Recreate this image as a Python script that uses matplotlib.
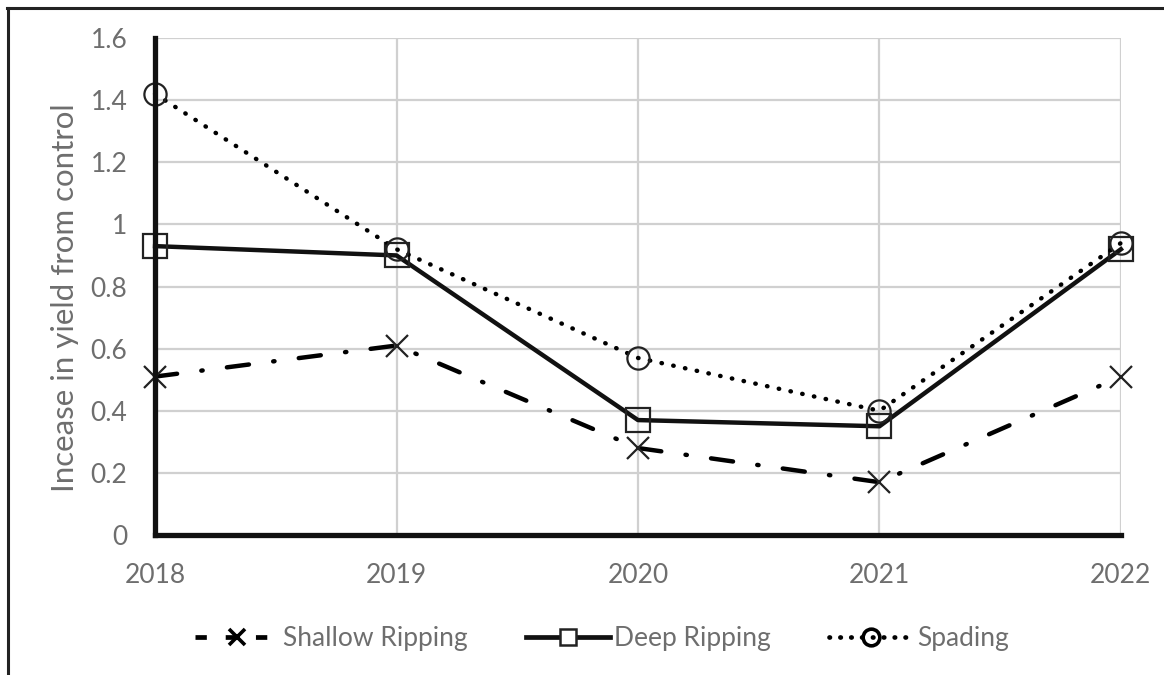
import matplotlib.pyplot as plt
from matplotlib.lines import Line2D

plt.rcParams['font.family'] = ['Lato', 'DejaVu Sans']

years = ['2018', '2019', '2020', '2021', '2022']
shallow = [0.51, 0.61, 0.28, 0.17, 0.51]
deep = [0.93, 0.90, 0.37, 0.35, 0.92]
spading = [1.42, 0.92, 0.57, 0.40, 0.94]

grey = '#6e6e6e'

fig = plt.figure(figsize=(11.64, 6.75), dpi=100)
ax = fig.add_axes([0.1332, 0.2074, 0.8298, 0.7363])

x = range(len(years))
ax.plot(x, shallow, color='black', lw=3.2, dashes=(5, 5.5, 0.3, 5.5),
        marker='x', ms=16, mew=1.6, mec='#222222', label='Shallow Ripping',
        dash_capstyle='round', zorder=3, clip_on=False)
ax.plot(x, deep, color='#111111', lw=3.2, marker='s', ms=17, mew=1.6,
        mfc='none', mec='#222222', label='Deep Ripping', zorder=4, clip_on=False)
ax.plot(x, spading, color='black', lw=3.2, dashes=(0.1, 2.6),
        dash_capstyle='round', marker='o', ms=16, mew=1.6, mfc='none',
        mec='#222222', label='Spading', zorder=5, clip_on=False)

ax.set_xlim(0, 4)
ax.set_ylim(0, 1.6)
ax.set_xticks(list(x))
ax.set_xticklabels(years)
ax.set_yticks([0, 0.2, 0.4, 0.6, 0.8, 1.0, 1.2, 1.4, 1.6])
ax.set_yticklabels(['0', '0.2', '0.4', '0.6', '0.8', '1', '1.2', '1.4', '1.6'])
ax.tick_params(length=0, labelsize=19, labelcolor=grey)
ax.tick_params(axis='x', pad=20)
ax.tick_params(axis='y', pad=20)
ax.grid(True, color='#d0d0d0', lw=1.6)
ax.set_axisbelow(True)

for s in ['top', 'right']:
    ax.spines[s].set_visible(False)
for s in ['left', 'bottom']:
    ax.spines[s].set_linewidth(3.8)
    ax.spines[s].set_color('#111111')
ax.spines['left'].set_zorder(6)
ax.spines['bottom'].set_zorder(6)

ax.set_ylabel('Incease in yield from control', fontsize=22.5, color=grey)
ax.yaxis.set_label_coords(-0.079, 0.477)

handles = [
    Line2D([], [], color='black', lw=3.4, dashes=(2.4, 4.0), marker='x', ms=11,
           mew=2.6, label='Shallow Ripping'),
    Line2D([], [], color='#111111', lw=3.4, marker='s', ms=12, mew=1.8,
           mfc='white', mec='#222222', label='Deep Ripping'),
    Line2D([], [], color='black', lw=3.4, dashes=(0.1, 2.2), dash_capstyle='round',
           marker='o', ms=12, mew=2.6, mfc='none', mec='black', label='Spading'),
]
fig.legend(handles=handles, loc='center', bbox_to_anchor=(0.517, 0.054), ncol=3,
           frameon=False, fontsize=19, labelcolor=grey, handlelength=3.2,
           handletextpad=0.15, columnspacing=2.2)

# frame lines along the top and left edge
fig.add_artist(Line2D([0.006, 1.0], [0.988, 0.988], color='#222222', lw=2.2,
                      transform=fig.transFigure))
fig.add_artist(Line2D([0.0068, 0.0068], [0.0, 0.988], color='#222222', lw=2.2,
                      transform=fig.transFigure))

fig.savefig('out.png', dpi=100, facecolor='white')
